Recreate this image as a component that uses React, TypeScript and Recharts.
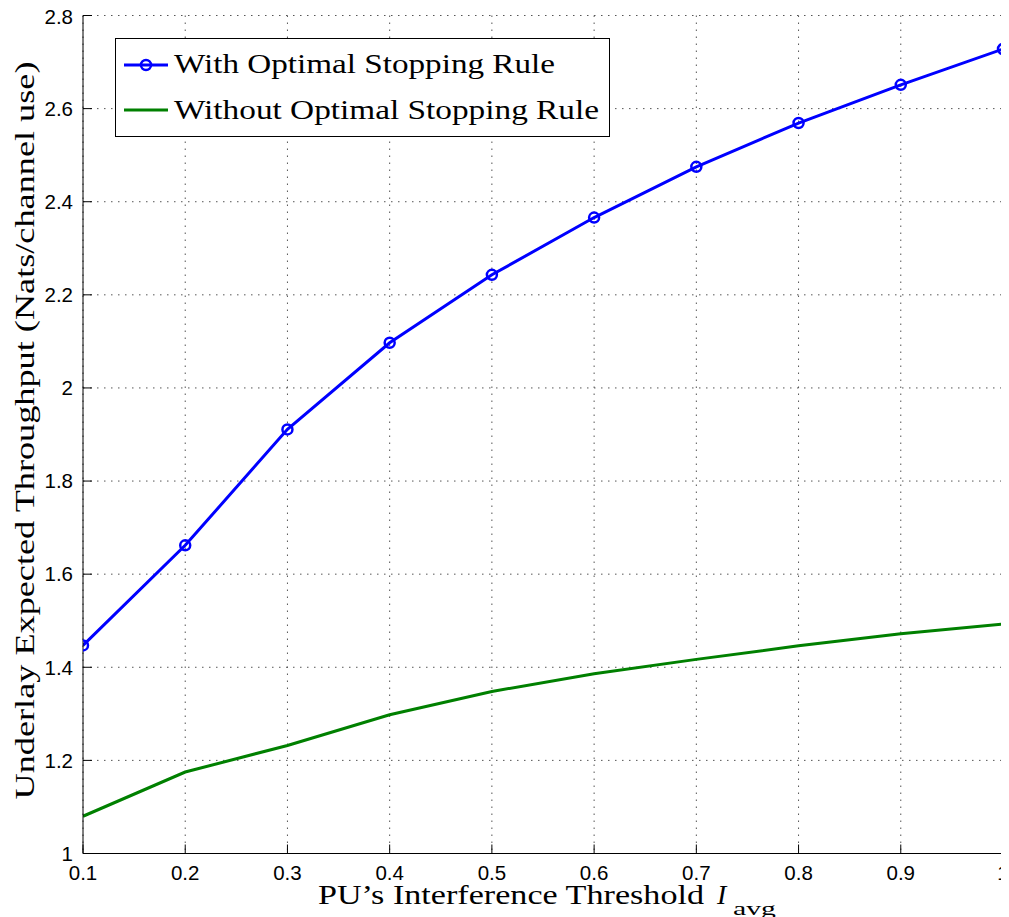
import React from "react";
import {
  LineChart,
  Line,
  XAxis,
  YAxis,
  CartesianGrid,
  Legend,
} from "recharts";

const xValues = [0.1, 0.2, 0.3, 0.4, 0.5, 0.6, 0.7, 0.8, 0.9, 1.0];
const withOSR = [1.447, 1.662, 1.911, 2.097, 2.243, 2.366, 2.475, 2.569, 2.651, 2.728];
const withoutOSR = [1.08, 1.175, 1.232, 1.298, 1.348, 1.386, 1.417, 1.446, 1.472, 1.493];

const xTicks = [0.1, 0.2, 0.3, 0.4, 0.5, 0.6, 0.7, 0.8, 0.9, 1];
const xTickLabels = ["0.1", "0.2", "0.3", "0.4", "0.5", "0.6", "0.7", "0.8", "0.9", "1"];
const yTicks = [1, 1.2, 1.4, 1.6, 1.8, 2, 2.2, 2.4, 2.6, 2.8];
const yTickLabels = ["1", "1.2", "1.4", "1.6", "1.8", "2", "2.2", "2.4", "2.6", "2.8"];

const seriesNames = ["With Optimal Stopping Rule", "Without Optimal Stopping Rule"];
const seriesColors = ["#0000ff", "#008000"];

const xTitle = "PU\u2019s Interference Threshold";
const yTitle = "Underlay Expected Throughput (Nats/channel use)";

const data = xValues.map((x, i) => ({ x, with: withOSR[i], without: withoutOSR[i] }));

const SERIF = "'Liberation Serif', 'Times New Roman', serif";
const SANS = "'Liberation Sans', Arial, sans-serif";

const labelFor = (ticks: number[], labels: string[], v: number) => {
  const i = ticks.findIndex((t) => Math.abs(t - v) < 1e-9);
  return i >= 0 ? labels[i] : String(v);
};

const XTick = (props: any) => {
  const { x, y, payload } = props;
  return (
    <text x={x} y={y + 26.5} textAnchor="middle" fontFamily={SANS} fontSize={20.5} fill="#000">
      {labelFor(xTicks, xTickLabels, payload.value)}
    </text>
  );
};

const YTick = (props: any) => {
  const { x, y, payload } = props;
  return (
    <text x={x} y={y + 7.3} textAnchor="end" fontFamily={SANS} fontSize={20.5} fill="#000">
      {labelFor(yTicks, yTickLabels, payload.value)}
    </text>
  );
};

const XTitle = (props: any) => {
  const vb = props.viewBox || { x: 75, y: 845.5, width: 920, height: 63.5 };
  const cx = vb.x + vb.width / 2;
  const base = vb.y + 50.5;
  return (
    <g>
      <text x={cx - 225} y={base} fontFamily={SERIF} fontSize={28} fill="#000" textLength={386} lengthAdjust="spacingAndGlyphs">
        {xTitle}
      </text>
      <text x={cx + 174} y={base} fontFamily={SERIF} fontStyle="italic" fontSize={28} fill="#000">
        I
      </text>
      <text x={cx + 190} y={base + 11} fontFamily={SERIF} fontSize={19} fill="#000" textLength={43} lengthAdjust="spacingAndGlyphs">
        avg
      </text>
    </g>
  );
};

const YTitle = (props: any) => {
  const vb = props.viewBox || { x: 0, y: 7.5, width: 75, height: 838 };
  const x = vb.x + 26;
  const y = vb.y + vb.height / 2 - 4;
  return (
    <text
      x={x}
      y={y}
      transform={`rotate(-90 ${x} ${y})`}
      textAnchor="middle"
      fontFamily={SERIF}
      fontSize={28}
      fill="#000"
      textLength={738}
      lengthAdjust="spacingAndGlyphs"
    >
      {yTitle}
    </text>
  );
};

const LegendBox = () => (
  <div
    style={{
      width: 495,
      height: 99,
      border: "1px solid #000",
      background: "#fff",
      boxSizing: "border-box",
    }}
  >
    <svg width={493} height={97} style={{ display: "block" }}>
      {seriesNames.map((name, i) => {
        const ly = i === 0 ? 26 : 71;
        const by = i === 0 ? 34 : 80;
        return (
          <g key={name}>
            <line x1={8} x2={52} y1={ly} y2={ly} stroke={seriesColors[i]} strokeWidth={3} />
            {i === 0 && (
              <circle cx={30} cy={ly} r={5} fill="none" stroke={seriesColors[i]} strokeWidth={2.5} />
            )}
            <text
              x={58}
              y={by}
              fontFamily={SERIF}
              fontSize={28}
              fill="#000"
              textLength={i === 0 ? 381 : 425}
              lengthAdjust="spacingAndGlyphs"
            >
              {name}
            </text>
          </g>
        );
      })}
    </svg>
  </div>
);

export default function App() {
  return (
    <div style={{ width: 1001, height: 909, background: "#fff", overflow: "visible" }}>
      <style>{`.recharts-surface{overflow:visible !important}.recharts-wrapper{overflow:visible !important}`}</style>
      <LineChart
        width={1001}
        height={909}
        data={data}
        margin={{ top: 7.5, right: 6, bottom: 0, left: 0 }}
      >
        <CartesianGrid stroke="#555" strokeDasharray="1.5 5.5" strokeWidth={1} />
        <XAxis
          dataKey="x"
          type="number"
          domain={[0.1, 1]}
          ticks={xTicks}
          allowDataOverflow
          height={63.5}
          tickSize={-9}
          tickMargin={9}
          tick={<XTick />}
          axisLine={{ stroke: "#000", strokeWidth: 1 }}
          tickLine={{ stroke: "#000", strokeWidth: 1 }}
          label={{ content: (p: any) => <XTitle {...p} /> }}
        />
        <XAxis
          xAxisId="top"
          orientation="top"
          dataKey="x"
          type="number"
          domain={[0.1, 1]}
          ticks={xTicks}
          allowDataOverflow
          height={0}
          tickSize={-9}
          tick={false}
          axisLine={{ stroke: "#000", strokeWidth: 1 }}
          tickLine={{ stroke: "#000", strokeWidth: 1 }}
        />
        <YAxis
          type="number"
          domain={[1, 2.8]}
          ticks={yTicks}
          allowDataOverflow
          width={75}
          tickSize={-9}
          tickMargin={19}
          tick={<YTick />}
          axisLine={{ stroke: "#000", strokeWidth: 1 }}
          tickLine={{ stroke: "#000", strokeWidth: 1 }}
          label={{ content: (p: any) => <YTitle {...p} /> }}
        />
        <YAxis
          yAxisId="right"
          orientation="right"
          type="number"
          domain={[1, 2.8]}
          ticks={yTicks}
          allowDataOverflow
          width={0}
          tickSize={-9}
          tick={false}
          axisLine={{ stroke: "#000", strokeWidth: 1 }}
          tickLine={{ stroke: "#000", strokeWidth: 1 }}
        />
        <Legend
          layout="horizontal"
          verticalAlign="middle"
          align="center"
          content={() => <LegendBox />}
          wrapperStyle={{ position: "absolute", left: 107, top: 30, width: 495, height: 99, margin: 0, padding: 0 }}
        />
        <Line
          type="linear"
          dataKey="with"
          name={seriesNames[0]}
          stroke={seriesColors[0]}
          strokeWidth={3}
          dot={{ r: 5, stroke: seriesColors[0], strokeWidth: 2.5, fill: "none" }}
          activeDot={false}
          isAnimationActive={false}
        />
        <Line
          type="linear"
          dataKey="without"
          name={seriesNames[1]}
          stroke={seriesColors[1]}
          strokeWidth={3}
          dot={false}
          activeDot={false}
          isAnimationActive={false}
        />
      </LineChart>
    </div>
  );
}
